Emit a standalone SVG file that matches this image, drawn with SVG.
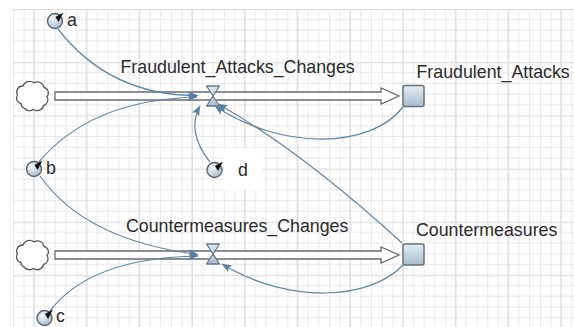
<svg xmlns="http://www.w3.org/2000/svg" width="574" height="327" viewBox="0 0 574 327">
<defs>
<pattern id="grid" x="13" y="9" width="52.7" height="53.2" patternUnits="userSpaceOnUse">
<path d="M0.5,0 V53.2 M11.04,0 V53.2 M31.62,0 V53.2 M42.16,0 V53.2 M0,10.64 H52.7 M0,21.28 H52.7 M0,31.92 H52.7 M0,42.56 H52.7" stroke="#e9e9e9" stroke-width="1" fill="none"/>
<path d="M21.08,0 V53.2 M0,0.5 H52.7" stroke="#dfdfdf" stroke-width="1.6" fill="none"/>
</pattern>
<linearGradient id="stockFill" x1="0" y1="0" x2="0" y2="1">
<stop offset="0" stop-color="#e3edf4"/>
<stop offset="1" stop-color="#a9bdcc"/>
</linearGradient>
<linearGradient id="valveFill" x1="0" y1="0" x2="0" y2="1">
<stop offset="0" stop-color="#dbe8f1"/>
<stop offset="1" stop-color="#a8c1d3"/>
</linearGradient>
<radialGradient id="auxFill" cx="0.35" cy="0.35" r="0.75">
<stop offset="0" stop-color="#f4f8fb"/>
<stop offset="1" stop-color="#9fb8cc"/>
</radialGradient>
<marker id="arr" markerUnits="userSpaceOnUse" markerWidth="11" markerHeight="9" refX="9.5" refY="4" orient="auto">
<path d="M0,0 L10,4 L0,8 L2,4 z" fill="#5a7f9e"/>
</marker>
<path id="cloud" d="M-12.5,7.5 a5.5,5.5 0 0 1 -3.5,-8.5 a6,6 0 0 1 5.5,-9 a7,7 0 0 1 11,-3 a6.5,6.5 0 0 1 10,4.5 a5.5,5.5 0 0 1 3,9 a6,6 0 0 1 -3.5,9 a6.5,6.5 0 0 1 -10,4 a7,7 0 0 1 -9.5,-1.5 a5,5 0 0 1 -3,-4.5 z" fill="#ffffff" stroke="#5a5a5a" stroke-width="1.3"/>
<g id="auxIcon">
<circle cx="0" cy="0" r="7.5" fill="url(#auxFill)" stroke="#5c6670" stroke-width="1.4"/>
<polygon points="8.5,-8.5 0.5,-4 3.5,1" fill="#111111"/>
</g>
<g id="valveIcon">
<path d="M-6.5,-10 H6.5 L0,0 Z M-6.5,10 H6.5 L0,0 Z" fill="url(#valveFill)" stroke="#6b7b88" stroke-width="1.3" stroke-linejoin="round"/>
</g>
</defs>
<style>
.lbl{font-family:"Liberation Sans",Arial,sans-serif;font-size:17.8px;fill:#2b2b2b}
.link{fill:none;stroke:#6487a4;stroke-width:1.25;marker-end:url(#arr)}
.pipe{fill:#ffffff;stroke:#666b70;stroke-width:1.3;stroke-linejoin:miter}
.stock{fill:url(#stockFill);stroke:#6a7076;stroke-width:1.5}
</style>
<rect x="0" y="0" width="574" height="327" fill="#ffffff"/>
<rect x="13" y="9" width="561" height="318" fill="url(#grid)"/>
<rect x="224" y="148" width="39" height="42" fill="#ffffff"/>

<g id="flows">
<g id="flow-fraud">
<path class="pipe" d="M55,92 H381 V88 L399,96 L381,104 V100 H55 Z"/>
</g>
<g id="flow-counter">
<path class="pipe" d="M55,251 H381 V247 L399,255 L381,263 V259 H55 Z"/>
</g>
</g>

<g id="connectors">
<path class="link" d="M58,29 Q110,96 198,95.5"/>
<path class="link" d="M38,163 Q90,100 197,97"/>
<path class="link" d="M210,162 Q186,132 200,106"/>
<path class="link" d="M403,107 C370,150 280,150 215,106"/>
<path class="link" d="M402,243 Q300,150 218,104"/>
<path class="link" d="M40,176 Q85,240 198,254.5"/>
<path class="link" d="M50,311 Q90,258 198,256"/>
<path class="link" d="M403,265 C370,300 290,305 222,264"/>
</g>

<g id="cloud-fraud"><use href="#cloud" x="33.5" y="96"/></g>
<g id="cloud-counter"><use href="#cloud" x="33.5" y="255"/></g>

<g id="Fraudulent_Attacks_Changes">
<use href="#valveIcon" x="213" y="96"/>
<text class="lbl" x="120.5" y="73">Fraudulent_Attacks_Changes</text>
</g>
<g id="Countermeasures_Changes">
<use href="#valveIcon" x="213" y="254"/>
<text class="lbl" x="126" y="231.5">Countermeasures_Changes</text>
</g>

<g id="Fraudulent_Attacks">
<rect class="stock" x="403" y="85.5" width="21" height="21" rx="2"/>
<text class="lbl" x="416.5" y="78.3">Fraudulent_Attacks</text>
</g>
<g id="Countermeasures">
<rect class="stock" x="403" y="244" width="21" height="21" rx="2"/>
<text class="lbl" x="416" y="236">Countermeasures</text>
</g>

<g id="a">
<use href="#auxIcon" x="55" y="21"/>
<text class="lbl" x="67" y="25.5">a</text>
</g>
<g id="b">
<use href="#auxIcon" x="34" y="169"/>
<text class="lbl" x="46" y="173.5">b</text>
</g>
<g id="d">
<use href="#auxIcon" x="214.5" y="170"/>
<text class="lbl" x="238" y="175.5">d</text>
</g>
<g id="c">
<use href="#auxIcon" x="44.5" y="318"/>
<text class="lbl" x="56" y="322">c</text>
</g>
</svg>
